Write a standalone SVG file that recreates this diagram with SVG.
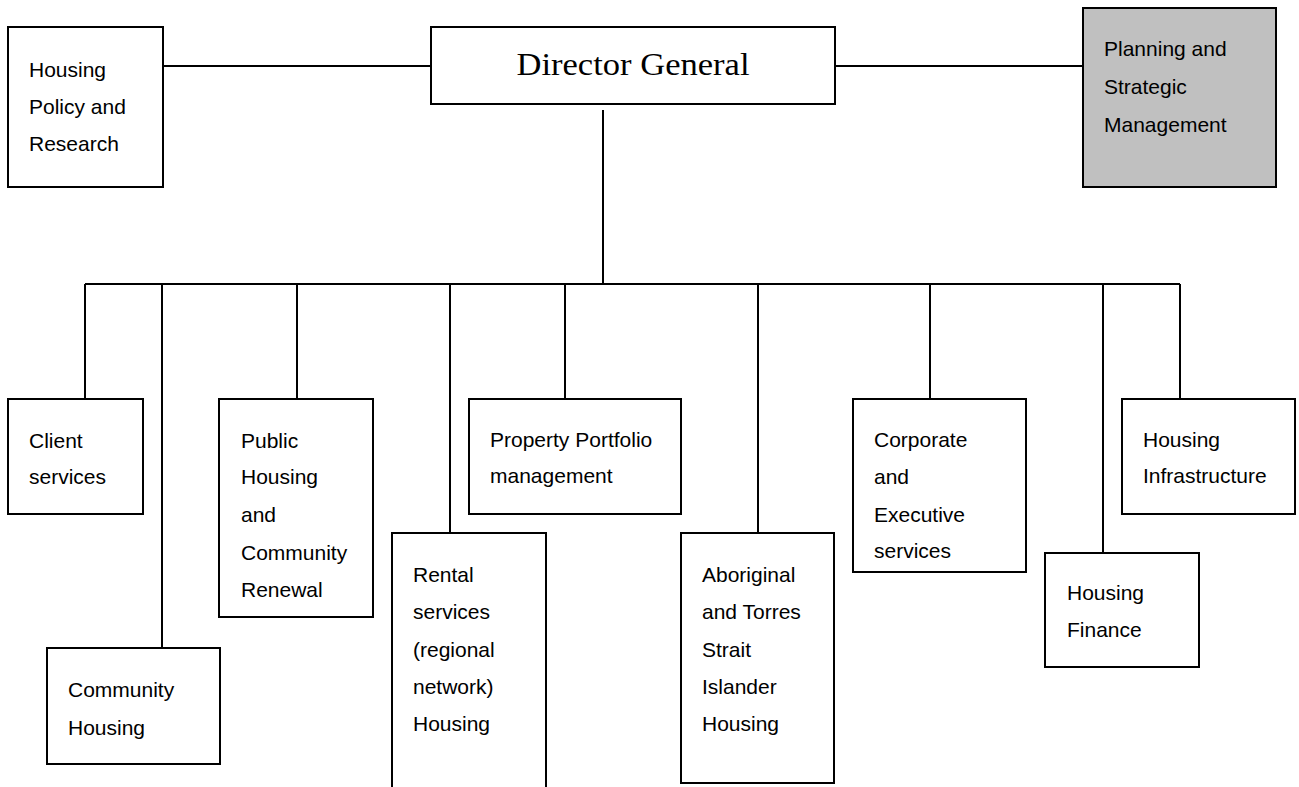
<svg xmlns="http://www.w3.org/2000/svg" width="1299" height="787" viewBox="0 0 1299 787">
  <style>
    .box { fill: #ffffff; stroke: #000000; stroke-width: 2; }
    .box.grey { fill: #c0c0c0; }
    .lbl { font-family: "Liberation Sans", Arial, sans-serif; font-size: 21px; fill: #000000; }
    .title { font-family: "Liberation Serif", "Times New Roman", serif; font-size: 32px; fill: #000000; }
    .wire { fill: none; stroke: #000000; stroke-width: 2; }
  </style>
  <rect width="1299" height="787" fill="#ffffff"/>

  <!-- connectors -->
  <g id="connectors">
    <line class="wire" x1="163" y1="66" x2="431" y2="66"/>
    <line class="wire" x1="835" y1="66" x2="1083" y2="66"/>
    <line class="wire" x1="603" y1="110" x2="603" y2="284"/>
    <line class="wire" x1="85" y1="284" x2="1180" y2="284"/>
    <line class="wire" x1="85" y1="284" x2="85" y2="399"/>
    <line class="wire" x1="162" y1="284" x2="162" y2="648"/>
    <line class="wire" x1="297" y1="284" x2="297" y2="399"/>
    <line class="wire" x1="450" y1="284" x2="450" y2="533"/>
    <line class="wire" x1="565" y1="284" x2="565" y2="399"/>
    <line class="wire" x1="758" y1="284" x2="758" y2="533"/>
    <line class="wire" x1="930" y1="284" x2="930" y2="399"/>
    <line class="wire" x1="1103" y1="284" x2="1103" y2="553"/>
    <line class="wire" x1="1180" y1="284" x2="1180" y2="399"/>
  </g>

  <g id="director-general">
    <rect class="box" x="431" y="27" width="404" height="77"/>
    <text class="title" x="633" y="75" text-anchor="middle" textLength="233" lengthAdjust="spacingAndGlyphs">Director General</text>
  </g>

  <g id="housing-policy">
    <rect class="box" x="8" y="27" width="155" height="160"/>
    <text class="lbl" x="29" y="77">Housing</text>
    <text class="lbl" x="29" y="114">Policy and</text>
    <text class="lbl" x="29" y="151">Research</text>
  </g>

  <g id="planning">
    <rect class="box grey" x="1083" y="8" width="193" height="179"/>
    <text class="lbl" x="1104" y="56">Planning and</text>
    <text class="lbl" x="1104" y="94">Strategic</text>
    <text class="lbl" x="1104" y="132">Management</text>
  </g>

  <g id="client-services">
    <rect class="box" x="8" y="399" width="135" height="115"/>
    <text class="lbl" x="29" y="448">Client</text>
    <text class="lbl" x="29" y="484">services</text>
  </g>

  <g id="community-housing">
    <rect class="box" x="47" y="648" width="173" height="116"/>
    <text class="lbl" x="68" y="697">Community</text>
    <text class="lbl" x="68" y="735">Housing</text>
  </g>

  <g id="public-housing">
    <rect class="box" x="219" y="399" width="154" height="218"/>
    <text class="lbl" x="241" y="448">Public</text>
    <text class="lbl" x="241" y="484">Housing</text>
    <text class="lbl" x="241" y="522">and</text>
    <text class="lbl" x="241" y="560">Community</text>
    <text class="lbl" x="241" y="597">Renewal</text>
  </g>

  <g id="rental-services">
    <path class="box" d="M392,790 V533 H546 V790"/>
    <text class="lbl" x="413" y="582">Rental</text>
    <text class="lbl" x="413" y="619">services</text>
    <text class="lbl" x="413" y="657">(regional</text>
    <text class="lbl" x="413" y="694">network)</text>
    <text class="lbl" x="413" y="731">Housing</text>
  </g>

  <g id="property-portfolio">
    <rect class="box" x="469" y="399" width="212" height="115"/>
    <text class="lbl" x="490" y="447">Property Portfolio</text>
    <text class="lbl" x="490" y="483">management</text>
  </g>

  <g id="aboriginal-housing">
    <rect class="box" x="681" y="533" width="153" height="250"/>
    <text class="lbl" x="702" y="582">Aboriginal</text>
    <text class="lbl" x="702" y="619">and Torres</text>
    <text class="lbl" x="702" y="657">Strait</text>
    <text class="lbl" x="702" y="694">Islander</text>
    <text class="lbl" x="702" y="731">Housing</text>
  </g>

  <g id="corporate-services">
    <rect class="box" x="853" y="399" width="173" height="173"/>
    <text class="lbl" x="874" y="447">Corporate</text>
    <text class="lbl" x="874" y="484">and</text>
    <text class="lbl" x="874" y="522">Executive</text>
    <text class="lbl" x="874" y="558">services</text>
  </g>

  <g id="housing-finance">
    <rect class="box" x="1045" y="553" width="154" height="114"/>
    <text class="lbl" x="1067" y="600">Housing</text>
    <text class="lbl" x="1067" y="637">Finance</text>
  </g>

  <g id="housing-infrastructure">
    <rect class="box" x="1122" y="399" width="173" height="115"/>
    <text class="lbl" x="1143" y="447">Housing</text>
    <text class="lbl" x="1143" y="483">Infrastructure</text>
  </g>
</svg>
